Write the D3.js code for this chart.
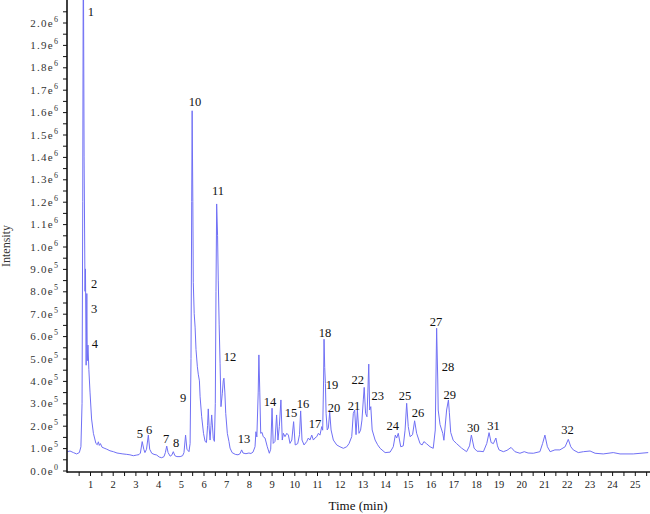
<!DOCTYPE html>
<html>
<head>
<meta charset="utf-8">
<script src="https://cdn.jsdelivr.net/npm/d3@7"></script>
<style>
  html, body { margin: 0; padding: 0; background: #fff; }
  svg { display: block; font-family: "Liberation Serif", "Times New Roman", Tinos, serif; }
  svg text { font-family: "Liberation Serif", "Times New Roman", Tinos, serif !important; }
</style>
</head>
<body>
<svg id="chart" width="650" height="514"></svg>
<script>
// ---------- DATA ----------
// retention time, minutes
const timeMin = [
  0.00, 0.12, 0.27, 0.41, 0.53, 0.60, 0.65, 0.68, 0.705, 0.74, 0.78, 0.80, 0.83, 0.86, 0.88, 0.91, 0.95,
  1.00, 1.07, 1.15, 1.26, 1.32, 1.37, 1.41, 1.46, 1.53, 1.62, 1.74, 1.88, 2.03, 2.19, 2.32, 2.45, 2.62,
  2.76, 2.91, 3.06, 3.16, 3.22, 3.30, 3.37, 3.42, 3.49, 3.57, 3.63, 3.72, 3.82, 3.94, 4.05, 4.16, 4.26,
  4.32, 4.38, 4.44, 4.53, 4.60, 4.67, 4.74, 4.83, 4.97, 5.08, 5.14, 5.21, 5.27, 5.36, 5.41, 5.45, 5.48,
  5.50, 5.53, 5.55, 5.59, 5.63, 5.67, 5.73, 5.77, 5.82, 5.85, 5.92, 6.00, 6.07, 6.13, 6.18, 6.21, 6.25,
  6.29, 6.33, 6.36, 6.40, 6.43, 6.48, 6.52, 6.55, 6.58, 6.62, 6.65, 6.69, 6.73, 6.77, 6.83, 6.87, 6.90,
  6.94, 6.98, 7.05, 7.12, 7.17, 7.26, 7.40, 7.52, 7.61, 7.68, 7.74, 7.87, 8.00, 8.09, 8.18, 8.27, 8.31,
  8.35, 8.41, 8.44, 8.48, 8.52, 8.58, 8.63, 8.71, 8.81, 8.90, 8.96, 9.02, 9.07, 9.15, 9.22, 9.28, 9.34,
  9.41, 9.47, 9.52, 9.59, 9.67, 9.74, 9.81, 9.89, 9.97, 10.04, 10.15, 10.23, 10.28, 10.34, 10.43, 10.55,
  10.62, 10.69, 10.77, 10.84, 10.91, 10.99, 11.06, 11.13, 11.21, 11.25, 11.29, 11.31, 11.34, 11.37, 11.40,
  11.45, 11.50, 11.56, 11.62, 11.72, 11.87, 12.01, 12.16, 12.31, 12.41, 12.53, 12.60, 12.66, 12.72, 12.78,
  12.85, 12.92, 12.98, 13.04, 13.08, 13.14, 13.20, 13.24, 13.28, 13.32, 13.37, 13.43, 13.56, 13.67, 13.78,
  14.00, 14.22, 14.36, 14.45, 14.51, 14.58, 14.69, 14.80, 14.88, 14.95, 15.02, 15.10, 15.21, 15.30, 15.39,
  15.54, 15.63, 15.71, 15.82, 15.98, 16.12, 16.21, 16.27, 16.32, 16.34, 16.42, 16.54, 16.59, 16.71, 16.79,
  16.83, 16.89, 17.00, 17.15, 17.37, 17.59, 17.72, 17.80, 17.92, 18.05, 18.18, 18.33, 18.48, 18.58, 18.67,
  18.77, 18.88, 18.95, 19.02, 19.21, 19.37, 19.55, 19.72, 19.94, 20.13, 20.30, 20.53, 20.82, 20.94, 21.04,
  21.15, 21.27, 21.48, 21.70, 21.93, 22.07, 22.18, 22.29, 22.51, 22.74, 23.03, 23.25, 23.61, 24.05, 24.35,
  24.93, 25.59
];
// intensity, in units of 1e5 counts
const intensityE5 = [
  0.84, 0.87, 0.80, 0.74, 0.80, 1.06, 3.0, 12.0, 24.0, 14.0, 8.0, 9.0, 4.7, 7.9, 4.9, 5.6, 4.5,
  3.5, 2.3, 1.66, 1.21, 1.15, 1.28, 1.12, 1.20, 1.04, 1.00, 0.95, 0.88, 0.84, 0.78, 0.76, 0.74, 0.72,
  0.70, 0.66, 0.69, 0.71, 0.78, 1.29, 0.95, 0.80, 0.95, 1.58, 0.95, 0.77, 0.72, 0.69, 0.60, 0.57, 0.62,
  0.80, 1.09, 0.80, 0.64, 0.68, 0.84, 0.66, 0.62, 0.62, 0.66, 0.80, 1.58, 0.95, 0.84, 1.2, 5.0, 12.0,
  16.06, 12.0, 8.4, 7.0, 6.4, 5.4, 4.63, 4.3, 4.0, 3.29, 2.4, 1.66, 1.3, 1.25, 2.0, 2.75, 1.9,
  1.36, 2.0, 2.48, 1.9, 1.44, 1.3, 3.0, 8.0, 11.9, 10.5, 8.5, 6.5, 4.79, 2.85, 3.45, 4.0, 4.12,
  3.5, 2.55, 1.66, 1.3, 1.0, 0.8, 0.72, 0.70, 0.75, 0.92, 0.78, 0.75, 0.78, 0.76, 0.82, 1.06, 1.73,
  1.5, 3.5, 5.16, 3.5, 1.66, 1.7, 1.51, 1.45, 1.06, 0.77, 0.95, 2.78, 1.21, 1.3, 2.48, 1.36, 1.96,
  3.15, 1.36, 1.66, 1.51, 1.66, 1.58, 1.21, 1.36, 2.18, 1.14, 1.2, 1.6, 2.66, 1.36, 1.14, 1.3,
  1.45, 1.36, 1.58, 1.36, 1.45, 1.51, 1.66, 1.58, 1.96, 1.8, 4.0, 5.86, 4.6, 3.89, 2.55,
  1.81, 1.9, 2.6, 1.81, 1.36, 1.14, 1.06, 0.99, 1.06, 1.2, 1.51, 2.55, 2.7, 1.6, 2.7,
  1.66, 1.8, 2.25, 3.15, 3.71, 2.55, 2.4, 3.5, 4.75, 2.7, 2.85, 1.81, 1.36, 1.15, 0.99,
  0.80, 0.82, 1.06, 1.58, 1.45, 1.66, 1.06, 1.1, 1.8, 3.0, 1.96, 1.51, 1.6, 2.22, 1.66,
  1.2, 1.14, 1.29, 1.2, 1.06, 0.99, 1.81, 6.35, 4.04, 2.7, 2.05, 1.66, 1.35, 2.7, 3.15,
  2.6, 1.7, 1.35, 1.2, 1.0, 0.84, 1.1, 1.58, 1.0, 0.86, 0.86, 0.84, 1.21, 1.69, 1.25,
  1.2, 1.45, 1.1, 0.92, 0.84, 0.9, 1.03, 0.84, 0.77, 0.84, 0.78, 0.77, 0.84, 1.21, 1.58,
  1.06, 0.84, 0.92, 0.92, 1.06, 1.39, 1.06, 0.92, 0.80, 0.84, 0.87, 0.77, 0.74, 0.80, 0.74,
  0.74, 0.80
];
// peak annotations
const peakLabels = ["1","2","3","4","5","6","7","8","9","10","11","12","13","14","15","16",
  "17","18","19","20","21","22","23","24","25","26","27","28","29","30","31","32"];
const peakLabelTime = [1.04, 1.18, 1.18, 1.22, 3.20, 3.60, 4.35, 4.79, 5.10, 5.63, 6.64, 7.17, 7.78, 8.93, 9.85, 10.38,
  10.91, 11.35, 11.66, 11.75, 12.63, 12.80, 13.68, 14.34, 14.88, 15.45, 16.24, 16.77, 16.85, 17.88, 18.78, 22.03];
const peakLabelE5 = [20.31, 8.13, 7.01, 5.49, 1.47, 1.65, 1.21, 1.07, 3.04, 16.29, 12.28, 4.91, 1.21, 2.90, 2.37, 2.77,
  1.88, 5.98, 3.62, 2.63, 2.72, 3.84, 3.13, 1.83, 3.13, 2.41, 6.47, 4.42, 3.21, 1.74, 1.83, 1.65];
// axis ticks
const xTickLabels = [1,2,3,4,5,6,7,8,9,10,11,12,13,14,15,16,17,18,19,20,21,22,23,24,25];
const yTickMantissa = ["0.0","1.0","2.0","3.0","4.0","5.0","6.0","7.0","8.0","9.0","1.0","1.1","1.2","1.3","1.4","1.5","1.6","1.7","1.8","1.9","2.0"];
const yTickExponent = ["0","5","5","5","5","5","5","5","5","5","6","6","6","6","6","6","6","6","6","6","6"];
const xTitle = "Time (min)";
const yTitle = "Intensity";

// ---------- CHART ----------
const FONT = '"Liberation Serif", "Times New Roman", Tinos, serif';
const svg = d3.select("#chart");
const x = d3.scaleLinear().domain([0, 25]).range([67.3, 634.8]);
const y = d3.scaleLinear().domain([0, 20]).range([470.5, 22.5]); // units of 1e5
const axisY = 472, axisX = 67;

// trace
const pts = timeMin.map((t, i) => [t, intensityE5[i]]);
svg.append("path")
  .datum(pts)
  .attr("fill", "none")
  .attr("stroke", "#7070f5")
  .attr("stroke-width", 1)
  .attr("stroke-linejoin", "round")
  .attr("d", d3.line().x(d => x(d[0])).y(d => y(d[1])));

// x axis
const xTicks = d3.range(1, 52).map(i => i * 0.5);
const xAxis = d3.axisBottom(x).tickValues(xTicks).tickSize(4).tickSizeOuter(0)
  .tickFormat(d => (Number.isInteger(d) && xTickLabels.includes(d)) ? String(d) : "");
const gx = svg.append("g").attr("transform", `translate(0,${axisY})`).call(xAxis)
  .attr("font-family", FONT);
gx.select(".domain").remove();
gx.selectAll(".tick line").attr("stroke", "#111").attr("stroke-width", 1);
gx.selectAll(".tick text").attr("font-size", 10.5).attr("y", 8).attr("dy", "0.75em")
  .attr("fill", "#222");
svg.append("line").attr("x1", axisX).attr("x2", 650).attr("y1", axisY).attr("y2", axisY)
  .attr("stroke", "#111").attr("stroke-width", 1.5);

// y axis
const yTicks = d3.range(0, 42).map(i => i * 0.5);
const yAxis = d3.axisLeft(y).tickValues(yTicks).tickSize(4).tickSizeOuter(0).tickFormat("");
const gy = svg.append("g").attr("transform", `translate(${axisX},0)`).call(yAxis);
gy.select(".domain").remove();
gy.selectAll(".tick line").attr("stroke", "#111").attr("stroke-width", 1);
svg.append("line").attr("x1", axisX).attr("x2", axisX).attr("y1", 0).attr("y2", axisY + 0.75)
  .attr("stroke", "#111").attr("stroke-width", 1.6);

const yl = svg.append("g").attr("font-family", FONT).selectAll("text").data(yTickMantissa).join("text")
  .attr("x", 58).attr("y", (d, i) => y(i) + 4)
  .attr("text-anchor", "end")
  .attr("font-size", 11)
  .attr("letter-spacing", "1.3px")
  .attr("fill", "#333");
yl.append("tspan").text(d => d + "e");
yl.append("tspan").text((d, i) => yTickExponent[i])
  .attr("font-size", 8).attr("dy", -5).attr("letter-spacing", "0px");

// titles
svg.append("text").attr("x", 358).attr("y", 510).attr("text-anchor", "middle")
  .attr("font-family", FONT).attr("font-size", 13).attr("fill", "#111").text(xTitle);
svg.append("text").attr("transform", "translate(10,246) rotate(-90)")
  .attr("font-family", FONT).attr("text-anchor", "middle").attr("font-size", 12).attr("fill", "#333").text(yTitle);

// peak labels
svg.append("g").attr("font-family", FONT).selectAll("text").data(peakLabels).join("text")
  .attr("x", (d, i) => x(peakLabelTime[i]))
  .attr("y", (d, i) => y(peakLabelE5[i]))
  .attr("text-anchor", "middle")
  .attr("font-size", 12.5)
  .attr("fill", "#111")
  .text(d => d);
</script>
</body>
</html>
